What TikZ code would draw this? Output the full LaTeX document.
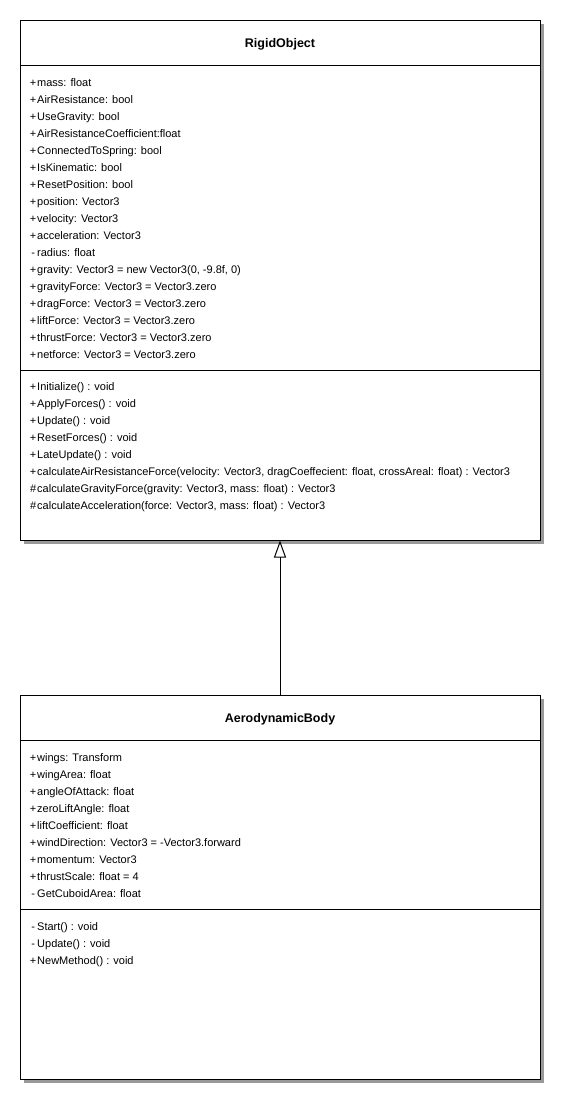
\documentclass[tikz,border=0pt]{standalone}
\usepackage{fontspec}
\setmainfont{Liberation Sans}
\usetikzlibrary{arrows.meta}
% visibility markers, each in a fixed-width slot
\newcommand\pub{\makebox[8pt][c]{+}}
\newcommand\priv{\makebox[8pt][c]{-}}
\newcommand\prot{\makebox[8pt][c]{\#}}
\begin{document}
\begin{tikzpicture}[x=1pt,y=-1pt,
  classbox/.style={draw=black,fill=white,line width=1pt,minimum width=520pt,inner sep=0pt},
  boxshadow/.style={fill=black!40,draw=none},
  classtitle/.style={anchor=base,inner sep=0pt,font=\fontsize{12.5}{14}\selectfont\bfseries},
  member/.style={anchor=base west,inner sep=0pt,font=\fontsize{11}{17}\selectfont},
  sep/.style={line width=1pt},
  generalization/.style={line width=1pt,-{Triangle[open,length=17pt,width=12pt]}}]
\useasboundingbox (0,0) rectangle (564,1104);

% ---------- RigidObject ----------
\fill[boxshadow] (24,24) rectangle (544,544);
\node[classbox,minimum height=520pt] (rigid) at (280,280) {};
\node[classtitle] (rigidname) at (280,47.5) {RigidObject};
\draw[sep] (rigid.west |- 0,65) -- (rigid.east |- 0,65);
\draw[sep] (rigid.west |- 0,370) -- (rigid.east |- 0,370);
\foreach \t [count=\i] in {
  {\pub mass: float},
  {\pub AirResistance: bool},
  {\pub UseGravity: bool},
  {\pub AirResistanceCoefficient:float},
  {\pub ConnectedToSpring: bool},
  {\pub IsKinematic: bool},
  {\pub ResetPosition: bool},
  {\pub position: Vector3},
  {\pub velocity: Vector3},
  {\pub acceleration: Vector3},
  {\priv radius: float},
  {\pub gravity: Vector3 = new Vector3(0, -9.8f, 0)},
  {\pub gravityForce: Vector3 = Vector3.zero},
  {\pub dragForce: Vector3 = Vector3.zero},
  {\pub liftForce: Vector3 = Vector3.zero},
  {\pub thrustForce: Vector3 = Vector3.zero},
  {\pub netforce: Vector3 = Vector3.zero}}
  \node[member] (rigidattr\i) at (29,{86+17*(\i-1)}) {\t};
\foreach \t [count=\i] in {
  {\pub Initialize() : void},
  {\pub ApplyForces() : void},
  {\pub Update() : void},
  {\pub ResetForces() : void},
  {\pub LateUpdate() : void},
  {\pub calculateAirResistanceForce(velocity: Vector3, dragCoeffecient: float, crossAreal: float) : Vector3},
  {\prot calculateGravityForce(gravity: Vector3, mass: float) : Vector3},
  {\prot calculateAcceleration(force: Vector3, mass: float) : Vector3}}
  \node[member] (rigidop\i) at (29,{390+17*(\i-1)}) {\t};

% ---------- AerodynamicBody ----------
\fill[boxshadow] (24,699) rectangle (544,1083);
\node[classbox,minimum height=384pt] (aero) at (280,887) {};
\node[classtitle] (aeroname) at (280,722.5) {AerodynamicBody};
\draw[sep] (aero.west |- 0,740) -- (aero.east |- 0,740);
\draw[sep] (aero.west |- 0,909) -- (aero.east |- 0,909);
\foreach \t [count=\i] in {
  {\pub wings: Transform},
  {\pub wingArea: float},
  {\pub angleOfAttack: float},
  {\pub zeroLiftAngle: float},
  {\pub liftCoefficient: float},
  {\pub windDirection: Vector3 = -Vector3.forward},
  {\pub momentum: Vector3},
  {\pub thrustScale: float = 4},
  {\priv GetCuboidArea: float}}
  \node[member] (aeroattr\i) at (29,{761+17*(\i-1)}) {\t};
\foreach \t [count=\i] in {
  {\priv Start() : void},
  {\priv Update() : void},
  {\pub NewMethod() : void}}
  \node[member] (aeroop\i) at (29,{930+17*(\i-1)}) {\t};

% ---------- generalization ----------
\draw[generalization] (aero.north) -- (rigid.south);
\end{tikzpicture}
\end{document}
